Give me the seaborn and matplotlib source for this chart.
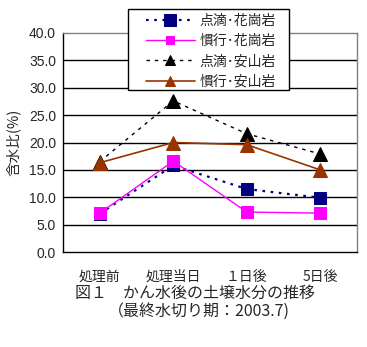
import matplotlib
matplotlib.use("Agg")
import matplotlib.pyplot as plt
from matplotlib.patches import Rectangle
import seaborn as sns
import pandas as pd

categories = ["処理前", "処理当日", "1日後", "5日後"]
tick_labels = ["処理前", "処理当日", "１日後", "5日後"]

drip_granite = [7.0, 15.8, 11.5, 9.9]
conv_granite = [7.1, 16.6, 7.3, 7.1]
drip_andesite = [16.5, 27.6, 21.6, 17.9]
conv_andesite = [16.3, 20.0, 19.6, 15.0]

series_names = ["点滴･花崗岩", "慣行･花崗岩", "点滴･安山岩", "慣行･安山岩"]
series_values = [drip_granite, conv_granite, drip_andesite, conv_andesite]

sns.set_theme(style="white")
plt.rcParams["font.family"] = ["Noto Sans CJK JP", "DejaVu Sans"]

styles = [
    dict(color="#000080", marker="s", ms=8.5, ls=(0, (1.2, 2.5)), lw=1.6, lms=8.5),
    dict(color="#FF00FF", marker="s", ms=9, ls="-", lw=1.0, lms=5.5),
    dict(color="#000000", marker="^", ms=10, ls=(0, (2.5, 3.5)), lw=1.0, lms=6.5),
    dict(color="#993300", marker="^", ms=10, ls="-", lw=1.2, lms=6.5),
]

W, H = 367, 347
fig = plt.figure(figsize=(W / 100, H / 100), dpi=100)
ax = fig.add_axes([63 / W, 1 - 252 / H, 294 / W, 219 / H])

for name, vals, st in zip(series_names, series_values, styles):
    df = pd.DataFrame({"x": list(range(len(categories))), "y": vals})
    sns.lineplot(data=df, x="x", y="y", ax=ax, color=st["color"], marker=st["marker"],
                 markersize=st["ms"], linestyle=st["ls"], linewidth=st["lw"],
                 markeredgecolor=st["color"], label=name, sort=False)

ax.set_xlim(-0.5, 3.5)
ax.set_ylim(0, 40)
ax.set_yticks(range(0, 45, 5))
ax.set_yticklabels([f"{v:.1f}" for v in range(0, 45, 5)], fontsize=10,
                   family=["Liberation Sans", "DejaVu Sans"])
ax.set_xticks(range(4))
ax.set_xticklabels(tick_labels, fontsize=10)
ax.set_xticks([0.5, 1.5, 2.5], minor=True)
ax.tick_params(axis="x", which="major", length=0, pad=13)
ax.tick_params(axis="x", which="minor", length=4, width=0.8, color="black", direction="out")
ax.tick_params(axis="y", length=0, pad=5)
for y in range(5, 40, 5):
    ax.axhline(y, color="black", lw=1.0, zorder=0)
ax.set_xlabel("")
ax.set_ylabel("含水比(%)", fontsize=10.5, labelpad=6)
for side in ["left", "bottom"]:
    ax.spines[side].set_color("black")
    ax.spines[side].set_linewidth(1.0)
for side in ["top", "right"]:
    ax.spines[side].set_color("#808080")
    ax.spines[side].set_linewidth(1.0)

# legend box with wider side margins than the entries need
box = Rectangle((128 / W, 1 - 90 / H), 161 / W, 81 / H, transform=fig.transFigure,
                facecolor="white", edgecolor="black", lw=1.0, zorder=5)
fig.add_artist(box)
leg = fig.legend(*ax.get_legend_handles_labels(), loc="upper left",
                 bbox_to_anchor=(146 / W, 1 - 13.5 / H), fontsize=10,
                 frameon=False, handlelength=3.5, borderpad=0,
                 labelspacing=0.46, handletextpad=0.35, borderaxespad=0)
leg.set_zorder(6)
ax.get_legend().remove()
for handle, st in zip(leg.legend_handles, styles):
    handle.set_markersize(st["lms"])

fig.text(75 / W, 1 - 293 / H, "図１　かん水後の土壌水分の推移", fontsize=11.5, va="center", ha="left")
fig.text(108 / W, 1 - 311 / H, "（最終水切り期：2003.7)", fontsize=11.5, va="center", ha="left")

fig.savefig("out.png", dpi=100, facecolor="white")
